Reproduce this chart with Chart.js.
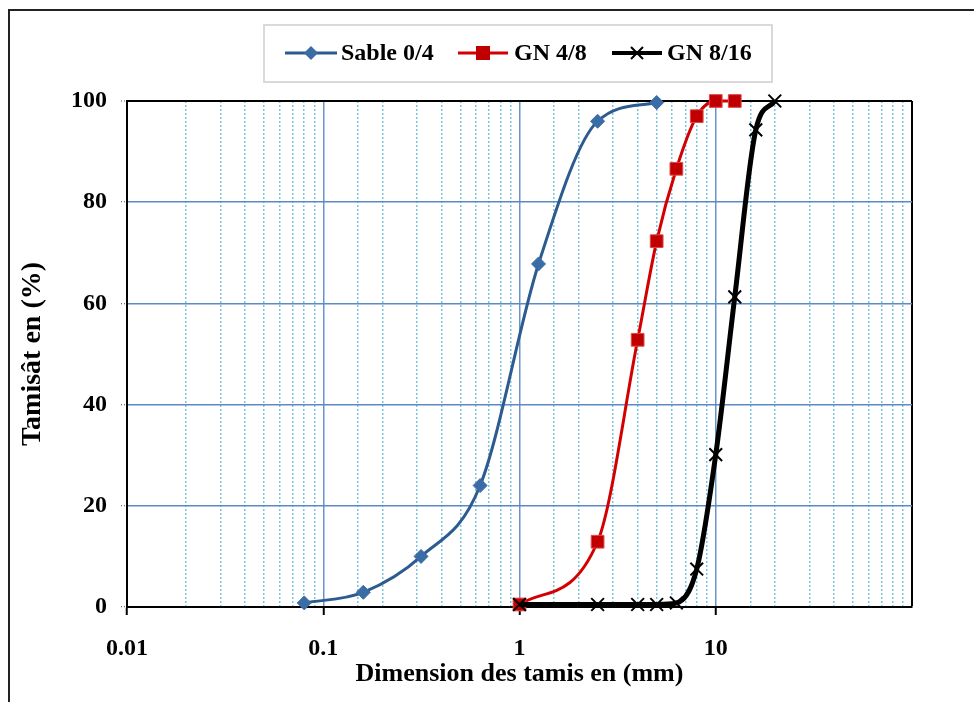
<!DOCTYPE html>
<html>
<head>
<meta charset="utf-8">
<script src="https://cdn.jsdelivr.net/npm/chart.js@4.4.0/dist/chart.umd.min.js"></script>
<style>
  html, body { margin: 0; background: #fff; }
</style>
</head>
<body>
<canvas id="chart" width="974" height="702"></canvas>
<script>
// courbes granulométriques (tamis en mm, tamisât en %)
const sieveSable = [0.08, 0.16, 0.315, 0.63, 1.25, 2.5, 5];
const passSable = [0.8, 2.9, 10.0, 24.0, 67.8, 96.0, 99.7];
const sieveGN48 = [1, 2.5, 4, 5, 6.3, 8, 10, 12.5];
const passGN48 = [0.5, 12.9, 52.8, 72.3, 86.6, 97.0, 100, 100];
const sieveGN816 = [1, 2.5, 4, 5, 6.3, 8, 10, 12.5, 16, 20];
const passGN816 = [0.5, 0.5, 0.5, 0.5, 0.8, 7.5, 30.1, 61.3, 94.3, 100];
const seriesNames = ["Sable 0/4", "GN 4/8", "GN 8/16"];
const xTickLabels = ["0.01", "0.1", "1", "10"];

const serif = "'Liberation Serif', 'Times New Roman', serif";
const blue = "#2c5b8f";
const red = "#d40000";

function pts(xs, ys) {
  return xs.map((x, i) => ({ x: x, y: ys[i] }));
}

function decade(v) {
  const l = Math.log10(v);
  return Math.abs(l - Math.round(l)) < 1e-6 ? Math.round(l) : null;
}

// cadre extérieur + légende
const decor = {
  id: "decor",
  beforeDraw(chart) {
    const c = chart.ctx;
    c.save();
    c.strokeStyle = "#222";
    c.lineWidth = 2;
    c.beginPath();
    c.moveTo(9, 702);
    c.lineTo(9, 10);
    c.lineTo(974, 10);
    c.stroke();
    c.restore();
  },
  afterDraw(chart) {
    const c = chart.ctx;
    c.save();
    c.fillStyle = "#fff";
    c.fillRect(264, 25, 508, 57);
    c.strokeStyle = "#d9d9d9";
    c.lineWidth = 2;
    c.strokeRect(264, 25, 508, 57);
    const y = 53;
    const items = [
      { x0: 285, x1: 337, color: blue, width: 3, text: seriesNames[0], tx: 341 },
      { x0: 458, x1: 508, color: red, width: 3, text: seriesNames[1], tx: 514 },
      { x0: 612, x1: 662, color: "#000", width: 4, text: seriesNames[2], tx: 667 }
    ];
    items.forEach((it, i) => {
      c.strokeStyle = it.color;
      c.lineWidth = it.width;
      c.beginPath();
      c.moveTo(it.x0, y);
      c.lineTo(it.x1, y);
      c.stroke();
      const m = (it.x0 + it.x1) / 2;
      if (i === 0) {
        c.fillStyle = "#3a6ca6";
        c.beginPath();
        c.moveTo(m, y - 7);
        c.lineTo(m + 7, y);
        c.lineTo(m, y + 7);
        c.lineTo(m - 7, y);
        c.closePath();
        c.fill();
      } else if (i === 1) {
        c.fillStyle = "#c00000";
        c.fillRect(m - 7, y - 7, 14, 14);
      } else {
        c.strokeStyle = "#000";
        c.lineWidth = 2;
        c.beginPath();
        c.moveTo(m - 6, y - 6);
        c.lineTo(m + 6, y + 6);
        c.moveTo(m + 6, y - 6);
        c.lineTo(m - 6, y + 6);
        c.stroke();
      }
      c.fillStyle = "#000";
      c.font = "bold 24px " + serif;
      c.textBaseline = "middle";
      c.fillText(it.text, it.tx, y + 1);
    });
    c.restore();
  }
};

new Chart(document.getElementById("chart"), {
  type: "line",
  data: {
    datasets: [
      {
        label: seriesNames[0],
        data: pts(sieveSable, passSable),
        borderColor: blue,
        borderWidth: 3,
        pointStyle: "rectRot",
        pointRadius: 7,
        pointBackgroundColor: "#3a6ca6",
        pointBorderColor: "#3a6ca6",
        pointBorderWidth: 1,
        cubicInterpolationMode: "monotone",
        order: 2
      },
      {
        label: seriesNames[1],
        data: pts(sieveGN48, passGN48),
        borderColor: red,
        borderWidth: 3,
        pointStyle: "rect",
        pointRadius: 9,
        pointBackgroundColor: "#c00000",
        pointBorderColor: "#e04848",
        pointBorderWidth: 1,
        cubicInterpolationMode: "monotone",
        order: 1
      },
      {
        label: seriesNames[2],
        data: pts(sieveGN816, passGN816),
        borderColor: "#000",
        borderWidth: 5,
        pointStyle: "crossRot",
        pointRadius: 9,
        pointBorderColor: "#000",
        pointBorderWidth: 2,
        cubicInterpolationMode: "monotone",
        order: 0
      }
    ]
  },
  options: {
    responsive: false,
    animation: false,
    clip: false,
    layout: { padding: { top: 101, right: 62, left: 0, bottom: 0 } },
    plugins: {
      legend: { display: false },
      tooltip: { enabled: false }
    },
    scales: {
      x: {
        type: "logarithmic",
        position: "bottom",
        min: 0.01,
        max: 100,
        afterFit(s) { s.height = 95; },
        ticks: {
          autoSkip: false,
          maxRotation: 0,
          padding: 19,
          color: "#000",
          font: { family: serif, size: 24, weight: "bold" },
          callback(v) {
            const d = decade(v);
            return d !== null && d + 2 < xTickLabels.length ? xTickLabels[d + 2] : "";
          }
        },
        grid: {
          color(ctx) {
            const d = ctx.tick ? decade(ctx.tick.value) : null;
            if (d === null) return "rgba(0,0,0,0)";
            if (d === 2 || d === -2) return "#000";
            return "#6a93c8";
          },
          lineWidth(ctx) {
            const d = ctx.tick ? decade(ctx.tick.value) : null;
            return d === 2 ? 2 : 1.5;
          },
          tickLength: 8,
          tickWidth: 2,
          tickColor(ctx) {
            const d = ctx.tick ? decade(ctx.tick.value) : null;
            return d !== null && d < 2 ? "#000" : "rgba(0,0,0,0)";
          }
        },
        border: { color: "#000", width: 2 },
        title: {
          display: true,
          text: "Dimension des tamis en (mm)",
          color: "#000",
          font: { family: serif, size: 26, weight: "bold", lineHeight: 1 },
          padding: { top: 0, bottom: 15 }
        }
      },
      xMinor: {
        type: "logarithmic",
        position: "top",
        min: 0.01,
        max: 100,
        afterFit(s) { s.height = 0; },
        ticks: { display: false, autoSkip: false },
        grid: {
          drawTicks: false,
          lineWidth: 1.5,
          color(ctx) {
            const d = ctx.tick ? decade(ctx.tick.value) : 0;
            return d === null ? "#7cc4de" : "rgba(0,0,0,0)";
          }
        },
        border: { display: false, dash: [2, 2] }
      },
      y: {
        min: 0,
        max: 100,
        afterFit(s) { s.width = 127; },
        ticks: {
          stepSize: 20,
          padding: 14,
          color: "#000",
          font: { family: serif, size: 24, weight: "bold" }
        },
        grid: {
          color(ctx) {
            const v = ctx.tick ? ctx.tick.value : 0;
            return v === 0 || v === 100 ? "#000" : "#5b8ac4";
          },
          lineWidth(ctx) {
            const v = ctx.tick ? ctx.tick.value : 0;
            return v === 100 ? 2 : 1.5;
          },
          tickLength: 6,
          tickWidth: 1,
          tickColor: "#444",
          tickBorderDash: [1, 2]
        },
        border: { color: "#000", width: 2 },
        title: {
          display: true,
          text: "Tamisât en (%)",
          color: "#000",
          font: { family: serif, size: 28, weight: "bold", lineHeight: 1 },
          padding: { top: 19, bottom: 0 }
        }
      }
    }
  },
  plugins: [decor]
});
</script>
</body>
</html>
